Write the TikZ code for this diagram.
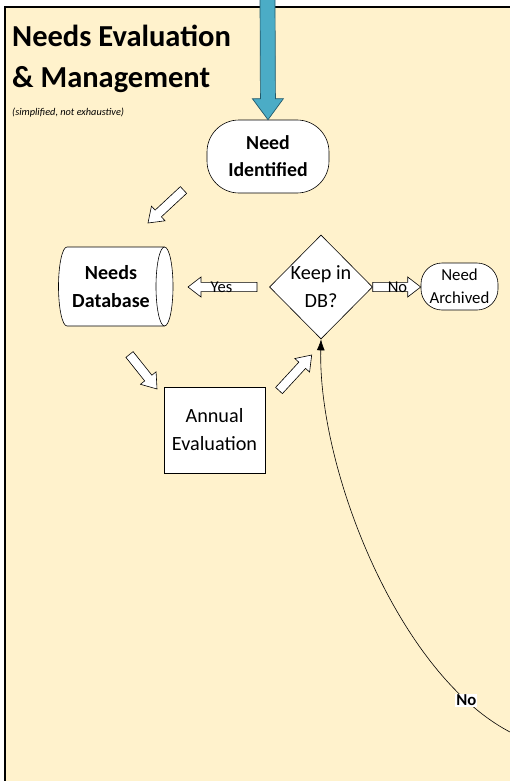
\documentclass[tikz,border=0pt]{standalone}
\usepackage{fontspec}
\setmainfont{Carlito}
\usetikzlibrary{calc,shapes.geometric,arrows.meta}
\definecolor{panel}{HTML}{FFF2CC}
\definecolor{feedblue}{HTML}{4BACC6}
\definecolor{feededge}{HTML}{23596A}
% #1 style, #2 from, #3 to, #4 shaft half width, #5 head half width, #6 head length
\newcommand{\blockarr}[6]{%
  \coordinate (bahead) at ($(#3)!#6!(#2)$);
  \draw[#1] ($(#2)!#4!90:(#3)$) -- ($(bahead)!#4!90:(#3)$) -- ($(bahead)!#5!90:(#3)$)
    -- (#3) -- ($(bahead)!#5!-90:(#3)$) -- ($(bahead)!#4!-90:(#3)$) -- ($(#2)!#4!-90:(#3)$) -- cycle;
}
\begin{document}
\begin{tikzpicture}[x=1pt,y=-1pt,
  shapeline/.style={draw=black, line width=0.6pt, fill=white},
  whitearrow/.style={draw=black, line width=0.6pt, fill=white, line join=miter},
  bluearrow/.style={draw=feededge, line width=0.7pt, fill=feedblue, line join=miter},
  titletext/.style={anchor=base west, inner sep=0pt, font=\bfseries\fontsize{30.5}{36}\selectfont},
  boldbox/.style={shapeline, align=center, inner sep=0pt, font=\bfseries\fontsize{19.8}{27}\selectfont},
  plainbox/.style={shapeline, align=center, inner sep=0pt, font=\fontsize{20.2}{28}\selectfont},
  smalllabel/.style={inner sep=0pt, font=\fontsize{16.5}{18}\selectfont}
]
\useasboundingbox (0,0) rectangle (510,781);
\begin{scope}
\clip (-5,-5) rectangle (515,786);
% panel
\fill[panel] (4.5,7.5) rectangle (600,860);
\draw[line width=2pt] (600,7.5) -- (4.5,7.5) -- (4.5,860);
\end{scope}

% title
\node[titletext] (t1) at (12,46.7) {Needs Evaluation};
\node[titletext] (t2) at (12,87.3) {\& Management};
\node[anchor=base west, inner sep=0pt, font=\itshape\fontsize{10.3}{12}\selectfont] (t3) at (12,116) {(simplified, not exhaustive)};

% nodes
\node[boldbox, minimum width=122pt, minimum height=73pt, rounded corners=32pt] (ni) at (268,156.5) {Need\\Identified};

\draw[shapeline] (67,247) -- (164.5,247) arc[start angle=90, end angle=-90, x radius=8.5pt, y radius=39.5pt]
  -- (67,326) arc[start angle=270, end angle=90, x radius=8.5pt, y radius=39.5pt] -- cycle;
\draw[line width=0.6pt] (164.5,247) arc[start angle=90, end angle=270, x radius=8.5pt, y radius=39.5pt];
\node[inner sep=0pt, align=center, font=\bfseries\fontsize{20}{28.5}\selectfont] (db) at (111,286.5) {Needs\\Database};

\node[plainbox, diamond, minimum width=103pt, minimum height=104pt] (kd) at (321,287) {Keep in\\DB?};
\node[plainbox, minimum width=101pt, minimum height=86pt] (ae) at (214.5,430) {Annual\\Evaluation};
\node[shapeline, align=center, inner sep=0pt, font=\fontsize{16.8}{23.3}\selectfont, minimum width=77pt, minimum height=47pt, rounded corners=21pt] (na) at (459.5,286.5) {Need\\Archived};

% arrow end points
\coordinate (feed) at (267.5,-6);
\coordinate (a1s) at (183.5,190);
\coordinate (a1e) at (148,223);
\coordinate (a2s) at (129.5,354.5);
\coordinate (a2e) at (157,389);
\coordinate (a3s) at (279,390.5);
\coordinate (a3e) at (311.7,355);
\coordinate (yess) at (257,287);
\coordinate (yese) at (188,287);
\coordinate (nos) at (372.7,287);
\coordinate (noe) at (420.7,287);
\coordinate (loop) at (516,735);

% block arrows
\blockarr{bluearrow}{feed}{ni.north}{7.5pt}{15.5pt}{21pt}
\blockarr{whitearrow}{a1s}{a1e}{4.6pt}{10pt}{14pt}
\blockarr{whitearrow}{a2s}{a2e}{4.6pt}{10pt}{14pt}
\blockarr{whitearrow}{a3s}{a3e}{4.6pt}{10pt}{14pt}
\blockarr{whitearrow}{yess}{yese}{4.6pt}{10pt}{13pt}
\blockarr{whitearrow}{nos}{noe}{4.6pt}{10pt}{13pt}
\node[smalllabel] (yeslbl) at (221.5,287) {Yes};
\node[smalllabel] (nolbl) at (397.5,287) {No};

% loop back curve
\begin{scope}
\clip (0,0) rectangle (510,781);
\draw[line width=0.6pt, -{Latex[length=11pt,width=8pt]}] (loop) .. controls (400,680) and (318,470) .. (kd.south)
  node[pos=0.15, fill=white, inner sep=1pt, font=\bfseries\fontsize{16.7}{18}\selectfont] (nocurve) {No};
\end{scope}
\end{tikzpicture}
\end{document}
